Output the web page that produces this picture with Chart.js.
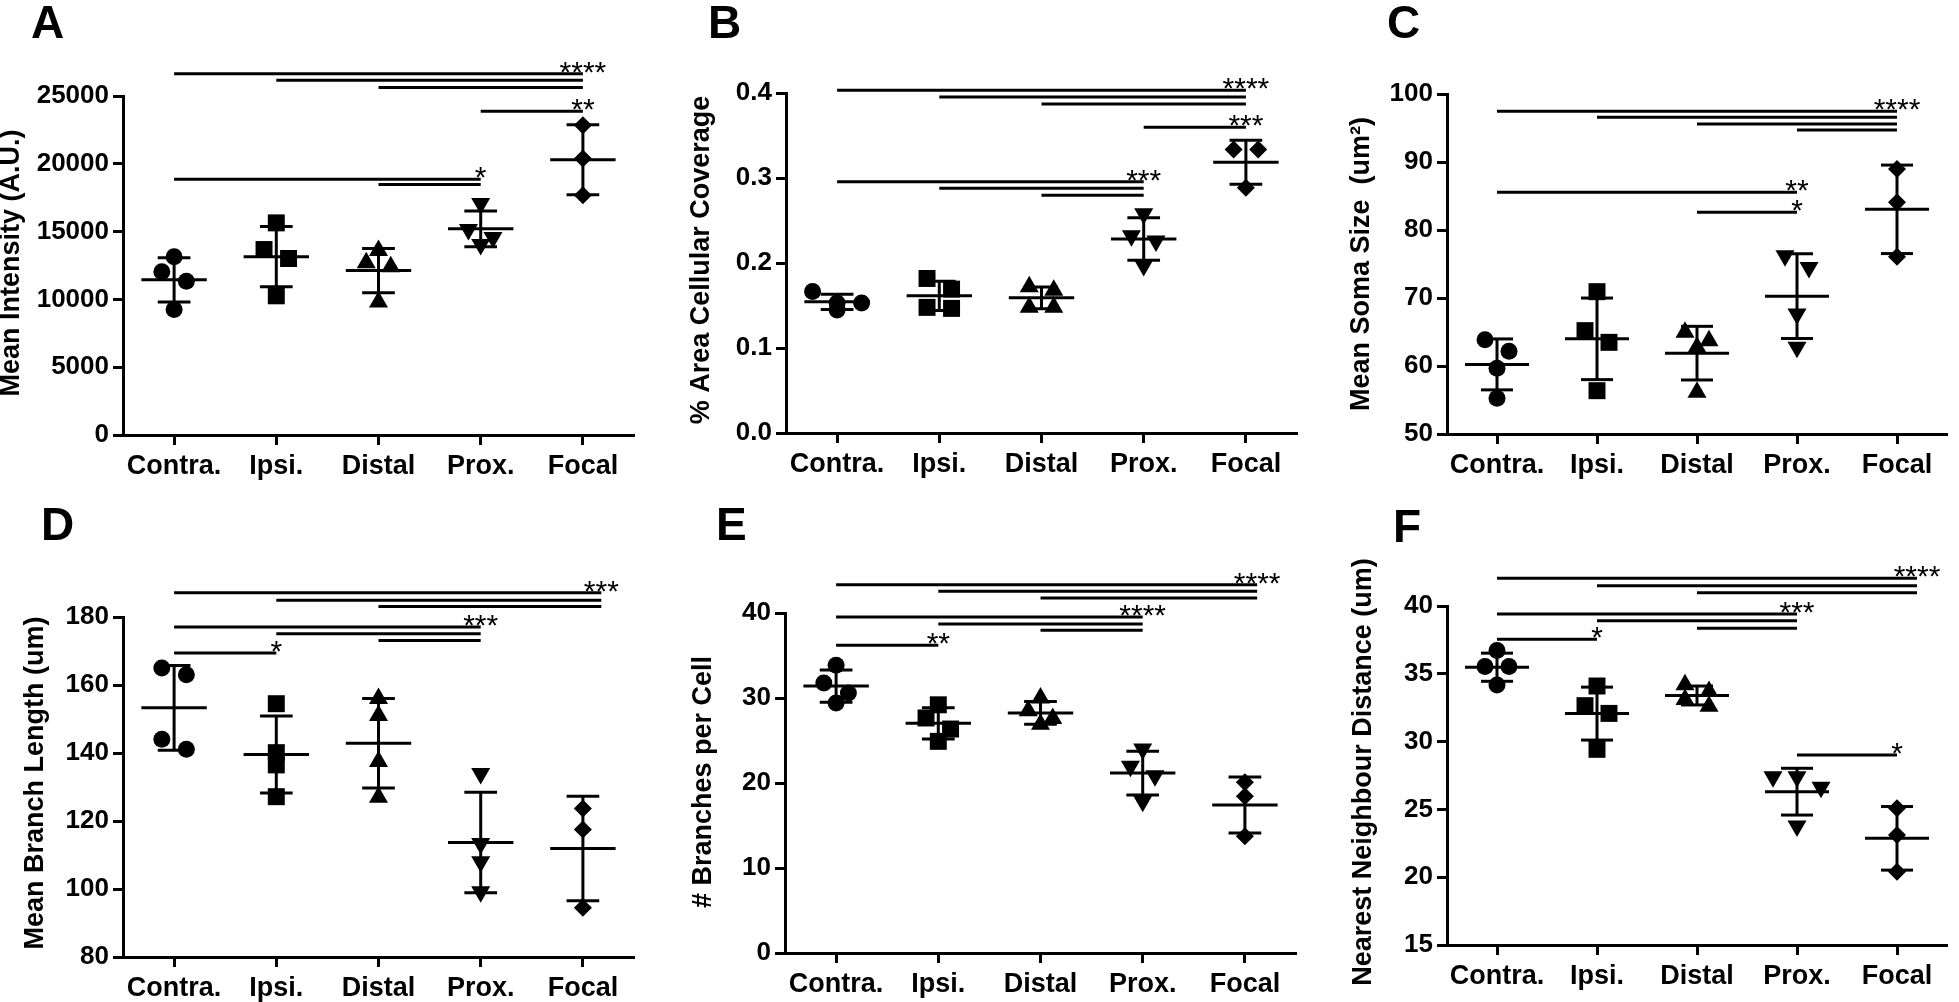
<!DOCTYPE html>
<html><head><meta charset="utf-8">
<script src="https://cdn.jsdelivr.net/npm/chart.js@4.4.1/dist/chart.umd.min.js"></script>
<style>
html,body{margin:0;padding:0;background:#fff;}
body{width:1959px;height:1002px;position:relative;overflow:hidden;}
canvas{position:absolute;}
</style></head><body>
<canvas id="cA"></canvas><canvas id="cB"></canvas><canvas id="cC"></canvas>
<canvas id="cD"></canvas><canvas id="cE"></canvas><canvas id="cF"></canvas>
<script>
const categories = ['Contra.', 'Ipsi.', 'Distal', 'Prox.', 'Focal'];

// A: Mean Intensity (A.U.)
const intensityValues = [
  [13139, 12033, 11346, 9258],
  [15643, 13679, 13016, 10265],
  [12700, 13600, 12400, 9800],
  [17066, 15152, 14563, 14047],
  [22839, 20383, 17681]
];
const intensityTicks = [0, 5000, 10000, 15000, 20000, 25000];
const intensitySig = [
  ['****', 4, [[0, 26650], [1, 26159], [2, 25618]]],
  ['**', 4, [[3, 23873]]],
  ['*', 3, [[0, 18863], [2, 18470]]]
];

// B: % Area Cellular Coverage
const coverageValues = [
  [0.1529, 0.1447, 0.1529, 0.1666],
  [0.1818, 0.1693, 0.1478, 0.1466],
  [0.168, 0.172, 0.148, 0.148],
  [0.258, 0.232, 0.226, 0.197],
  [0.3335, 0.3335, 0.2886]
];
const coverageTicks = [0, 0.1, 0.2, 0.3, 0.4];
const coverageSig = [
  ['****', 4, [[0, 0.4031], [1, 0.3953], [2, 0.3871]]],
  ['***', 4, [[3, 0.3597]]],
  ['***', 3, [[0, 0.2956], [1, 0.2878], [2, 0.2796]]]
];

// C: Mean Soma Size (um2)
const somaValues = [
  [63.87, 62.16, 59.66, 55.25],
  [70.93, 65.2, 63.48, 56.37],
  [63.73, 64.95, 62.75, 56.13],
  [76.2, 74.5, 67.65, 62.75],
  [88.97, 84.07, 76.08]
];
const somaTicks = [50, 60, 70, 80, 90, 100];
const somaSig = [
  ['****', 4, [[0, 97.45], [1, 96.57], [2, 95.59], [3, 94.71]]],
  ['**', 3, [[0, 85.54]]],
  ['*', 3, [[2, 82.6]]]
];

// D: Mean Branch Length (um)
const branchLengthValues = [
  [164.97, 163.0, 144.05, 141.1],
  [154.5, 140.1, 136.5, 127.15],
  [156, 151, 137.5, 127],
  [134.0, 113.4, 108.0, 99.2],
  [123.7, 117.5, 94.5]
];
const branchLengthTicks = [80, 100, 120, 140, 160, 180];
const branchLengthSig = [
  ['***', 4, [[0, 187.1], [1, 184.9], [2, 183.1]]],
  ['***', 3, [[0, 177.05], [1, 175.1], [2, 173.1]]],
  ['*', 1, [[0, 169.4]]]
];

// E: # Branches per Cell
const branchesValues = [
  [33.84, 31.76, 30.59, 29.41],
  [29.2, 27.65, 26.35, 24.9],
  [30.0, 28.5, 27.6, 26.9],
  [24.0, 21.96, 20.86, 17.84],
  [20.08, 18.43, 13.73]
];
const branchesTicks = [0, 10, 20, 30, 40];
const branchesSig = [
  ['****', 4, [[0, 43.33], [1, 42.55], [2, 41.76]]],
  ['****', 3, [[0, 39.53], [1, 38.71], [2, 37.96]]],
  ['**', 1, [[0, 36.2]]]
];

// F: Nearest Neighbour Distance (um)
const nndValues = [
  [36.71, 35.53, 35.53, 34.17],
  [34.1, 32.65, 32.08, 29.43],
  [34.2, 33.7, 33.1, 32.6],
  [27.41, 27.41, 26.63, 23.78],
  [25.08, 23.11, 20.41]
];
const nndTicks = [15, 20, 25, 30, 35, 40];
const nndSig = [
  ['****', 4, [[0, 42.04], [1, 41.5], [2, 40.98]]],
  ['***', 3, [[0, 39.41], [1, 38.92], [2, 38.35]]],
  ['*', 1, [[0, 37.54]]],
  ['*', 4, [[3, 29.01]]]
];

const FONT = '"Liberation Sans", Arial, Helvetica, sans-serif';
const shapes = [
  {style: 'circle', r: 8.5, rot: 0},
  {style: 'rect', r: 12, rot: 0},
  {style: 'triangle', r: 11, rot: 0},
  {style: 'triangle', r: 11, rot: 180},
  {style: 'rectRot', r: 9, rot: 0}
];

const panels = [
  {id: 'cA', box: [0, 0, 655, 500], axis: [123, 96, 634, 435], title: 'Mean Intensity (A.U.)', titleX: 12, titleY: 263,
   letter: 'A', letterX: 31, letterY: 38, ext: 0, values: intensityValues, ticks: intensityTicks, sig: intensitySig, fmt: v => String(v)},
  {id: 'cB', box: [655, 0, 663, 500], axis: [786, 93, 1297, 433], title: '% Area Cellular Coverage', titleX: 702, titleY: 260,
   letter: 'B', letterX: 708, letterY: 38, ext: 0, values: coverageValues, ticks: coverageTicks, sig: coverageSig, fmt: v => v.toFixed(1)},
  {id: 'cC', box: [1318, 0, 641, 500], axis: [1447, 94, 1958, 434], title: 'Mean Soma Size  (um\u00B2)', titleX: 1362, titleY: 264,
   letter: 'C', letterX: 1387, letterY: 38, ext: 0, values: somaValues, ticks: somaTicks, sig: somaSig, fmt: v => String(v)},
  {id: 'cD', box: [0, 500, 655, 502], axis: [123, 617, 634, 957], title: 'Mean Branch Length (um)', titleX: 36, titleY: 783,
   letter: 'D', letterX: 41, letterY: 540, ext: 0.18, values: branchLengthValues, ticks: branchLengthTicks, sig: branchLengthSig, fmt: v => String(v)},
  {id: 'cE', box: [655, 500, 663, 502], axis: [785, 613, 1296, 953], title: '# Branches per Cell', titleX: 704, titleY: 782,
   letter: 'E', letterX: 716, letterY: 540, ext: 0.12, values: branchesValues, ticks: branchesTicks, sig: branchesSig, fmt: v => String(v)},
  {id: 'cF', box: [1318, 500, 641, 502], axis: [1447, 606, 1958, 945], title: 'Nearest Neighbour Distance (um)', titleX: 1364, titleY: 772,
   letter: 'F', letterX: 1393, letterY: 542, ext: 0.2, values: nndValues, ticks: nndTicks, sig: nndSig, fmt: v => String(v)}
];

// horizontal spreading of points that share a row (computed from the values)
function jitter(vals, range) {
  const T = 12 / 340 * range, s = 0.12;
  const order = vals.map((v, i) => i).sort((a, b) => vals[b] - vals[a]);
  const offs = vals.map(() => 0);
  let row = [];
  const flush = () => { row.forEach((k, j) => { offs[k] = (j - (row.length - 1) / 2) * 2 * s; }); row = []; };
  order.forEach(k => { if (row.length && vals[row[0]] - vals[k] >= T) flush(); row.push(k); });
  flush();
  return offs;
}

function stats(vals) {
  const n = vals.length, m = vals.reduce((a, b) => a + b, 0) / n;
  const sd = Math.sqrt(vals.reduce((a, b) => a + (b - m) * (b - m), 0) / (n - 1));
  return [m, sd];
}

function overlay(p) {
  const [bx, by] = p.box;
  return {
    id: 'overlay',
    afterDatasetsDraw(chart) {
      const ctx = chart.ctx, xs = chart.scales.x, ys = chart.scales.y;
      const X = v => xs.getPixelForValue(v), Y = v => ys.getPixelForValue(v);
      ctx.save();
      ctx.strokeStyle = '#000'; ctx.lineWidth = 3; ctx.lineCap = 'butt';
      const seg = (x1, y1, x2, y2) => { ctx.beginPath(); ctx.moveTo(x1, y1); ctx.lineTo(x2, y2); ctx.stroke(); };
      p.values.forEach((vals, i) => {
        const [m, sd] = stats(vals);
        seg(X(i - 0.32), Y(m), X(i + 0.32), Y(m));
        seg(X(i), Y(m + sd), X(i), Y(m - sd));
        seg(X(i - 0.16), Y(m + sd), X(i + 0.16), Y(m + sd));
        seg(X(i - 0.16), Y(m - sd), X(i + 0.16), Y(m - sd));
      });
      ctx.fillStyle = '#000';
      ctx.font = '30px ' + FONT;
      ctx.textAlign = 'center'; ctx.textBaseline = 'alphabetic';
      p.sig.forEach(([label, to, bars], g) => {
        const end = to + (g === 0 ? p.ext : 0);
        let top = Infinity;
        bars.forEach(([from, v]) => { seg(X(from), Y(v), X(end), Y(v)); top = Math.min(top, Y(v)); });
        ctx.fillText(label, X(end), top + 8);
      });
      ctx.restore();
    },
    afterDraw(chart) {
      const ctx = chart.ctx;
      ctx.save();
      ctx.fillStyle = '#000';
      ctx.font = 'bold 46px ' + FONT;
      ctx.textAlign = 'left'; ctx.textBaseline = 'alphabetic';
      ctx.fillText(p.letter, p.letterX - bx, p.letterY - by);
      ctx.translate(p.titleX - bx, p.titleY - by);
      ctx.rotate(-Math.PI / 2);
      ctx.font = 'bold 27px ' + FONT;
      ctx.textAlign = 'center'; ctx.textBaseline = 'middle';
      ctx.fillText(p.title, 0, 0);
      ctx.restore();
    }
  };
}

function makeChart(p) {
  const cv = document.getElementById(p.id);
  const [bx, by, bw, bh] = p.box;
  cv.width = bw; cv.height = bh;
  cv.style.left = bx + 'px'; cv.style.top = by + 'px';
  cv.style.width = bw + 'px'; cv.style.height = bh + 'px';
  const [al, at, ar, ab] = p.axis;
  const yW = al - bx;
  const xH = Math.min(60, by + bh - ab);
  const yMin = p.ticks[0], yMax = p.ticks[p.ticks.length - 1];
  const datasets = p.values.map((vals, i) => {
    const offs = jitter(vals, yMax - yMin);
    return {
      data: vals.map((v, k) => ({x: i + offs[k], y: v})),
      pointStyle: shapes[i].style, pointRadius: shapes[i].r, pointHoverRadius: shapes[i].r,
      pointRotation: shapes[i].rot, pointBackgroundColor: '#000', pointBorderColor: '#000',
      pointBorderWidth: 0, showLine: false, clip: false
    };
  });
  const axisCommon = {
    grid: {display: true, drawOnChartArea: false, drawTicks: true, tickLength: 10, tickWidth: 3, tickColor: '#000'},
    border: {display: true, color: '#000', width: 3}
  };
  new Chart(cv, {
    type: 'scatter',
    data: {datasets},
    options: {
      responsive: false, animation: false, devicePixelRatio: 1,
      layout: {padding: {top: at - by, right: bx + bw - ar, bottom: by + bh - ab - xH, left: 0}},
      plugins: {legend: {display: false}, tooltip: {enabled: false}},
      scales: {
        x: Object.assign({
          type: 'linear', min: -0.5, max: 4.5,
          afterBuildTicks: s => { s.ticks = categories.map((c, i) => ({value: i})); },
          afterFit: s => { s.height = xH; },
          ticks: {callback: v => categories[v], color: '#000', font: {family: FONT, size: 27, weight: 'bold'},
                  padding: 5, autoSkip: false, maxRotation: 0}
        }, axisCommon),
        y: Object.assign({
          type: 'linear', min: yMin, max: yMax,
          afterBuildTicks: s => { s.ticks = p.ticks.map(v => ({value: v})); },
          afterFit: s => { s.width = yW; },
          ticks: {callback: v => p.fmt(v), color: '#000', font: {family: FONT, size: 26, weight: 'bold'}, padding: 4}
        }, axisCommon)
      }
    },
    plugins: [overlay(p)]
  });
}

panels.forEach(makeChart);
</script>
</body></html>
